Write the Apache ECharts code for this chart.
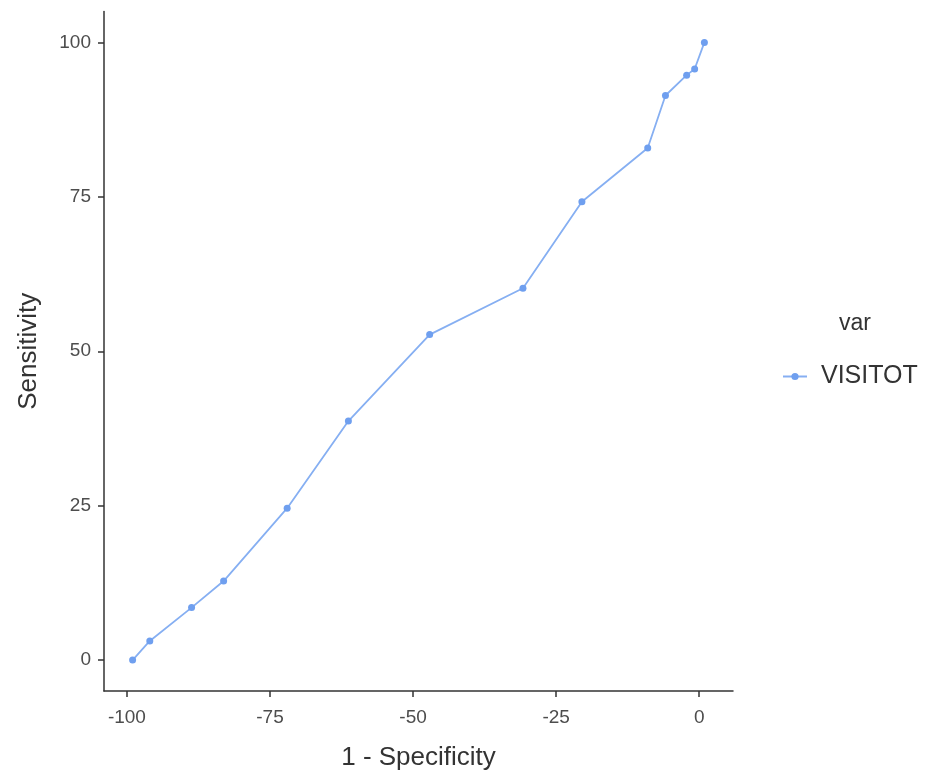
<!DOCTYPE html>
<html>
<head>
<meta charset="utf-8">
<script src="https://cdn.jsdelivr.net/npm/echarts@6/dist/echarts.min.js"></script>
<style>html,body{margin:0;padding:0;background:#fff;}#c{width:931px;height:781px;}</style>
</head>
<body>
<div id="c"></div>
<script>
const seriesName = 'VISITOT';
const specificity = [-99.0, -96.0, -88.7, -83.1, -72.0, -61.3, -47.1, -30.8, -20.5, -9.0, -5.9, -2.2, -0.8, 0.9];
const sensitivity = [0.0, 3.1, 8.5, 12.8, 24.6, 38.7, 52.7, 60.2, 74.2, 82.9, 91.4, 94.7, 95.7, 100.0];
const xTicks = [-100, -75, -50, -25, 0];
const yTicks = [0, 25, 50, 75, 100];

const data = specificity.map((x, i) => [x, sensitivity[i]]);
const font = 'Liberation Sans, Arial, sans-serif';
const chart = echarts.init(document.getElementById('c'), null, {renderer: 'canvas'});
chart.setOption({
  animation: false,
  backgroundColor: '#ffffff',
  grid: {left: 104, right: 198, top: 11.5, bottom: 90, containLabel: false},
  title: {
    text: 'var', left: 834, top: 307,
    textStyle: {fontFamily: font, fontSize: 23, fontWeight: 'normal', color: '#333333'}
  },
  legend: {
    left: 777, top: 359,
    itemWidth: 24, itemHeight: 9,
    data: [{name: seriesName}],
    textStyle: {fontFamily: font, fontSize: 25, color: '#333333', padding: [0, 0, 0, 9]}
  },
  xAxis: {
    type: 'value', min: -104, max: 5.9,
    name: '1 - Specificity', nameLocation: 'middle', nameGap: 54,
    nameTextStyle: {fontFamily: font, fontSize: 26, color: '#333333'},
    axisLine: {show: true, onZero: false, lineStyle: {color: '#333333', width: 1.5}},
    axisTick: {show: true, length: 6, lineStyle: {color: '#333333', width: 1.5},
      customValues: xTicks},
    axisLabel: {fontFamily: font, fontSize: 19, color: '#4d4d4d', margin: 17,
      customValues: xTicks},
    splitLine: {show: false}
  },
  yAxis: {
    type: 'value', min: -5, max: 105,
    name: 'Sensitivity', nameLocation: 'middle', nameGap: 62, nameRotate: 90,
    nameTextStyle: {fontFamily: font, fontSize: 26, color: '#333333'},
    axisLine: {show: true, onZero: false, lineStyle: {color: '#333333', width: 1.5}},
    axisTick: {show: true, length: 6, lineStyle: {color: '#333333', width: 1.5},
      customValues: yTicks},
    axisLabel: {fontFamily: font, fontSize: 19, color: '#4d4d4d', margin: 13,
      customValues: yTicks},
    splitLine: {show: false}
  },
  series: [{
    name: seriesName,
    type: 'line',
    data: data,
    symbol: 'circle',
    symbolSize: 7,
    showAllSymbol: true,
    lineStyle: {color: '#86aff2', width: 1.8},
    itemStyle: {color: '#6f9fef'}
  }]
});
</script>
</body>
</html>
